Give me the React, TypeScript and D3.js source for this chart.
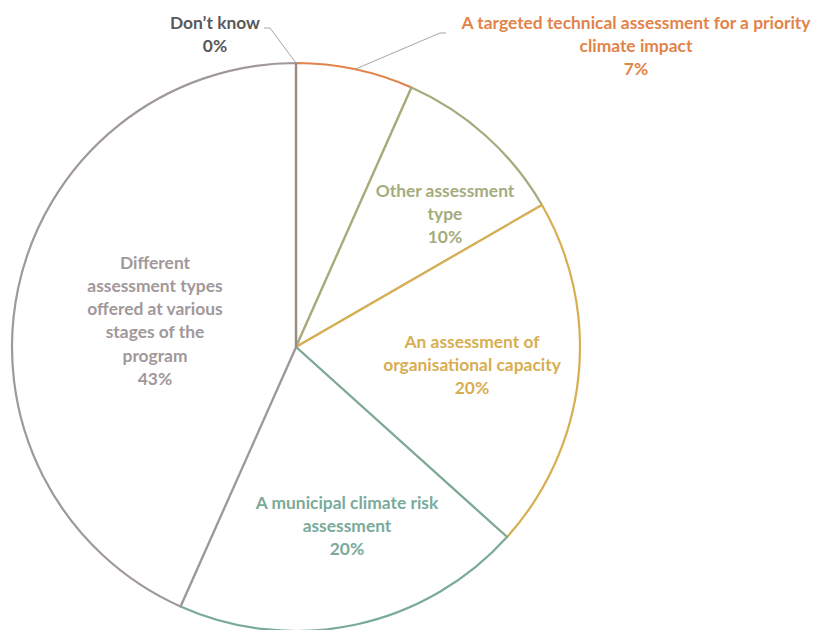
import React from "react";
import * as d3 from "d3";

const categories = [
  "A targeted technical assessment for a priority climate impact",
  "Other assessment type",
  "An assessment of organisational capacity",
  "A municipal climate risk assessment",
  "Different assessment types offered at various stages of the program",
  "Don’t know",
];
// respondent counts (n = 30)
const values = [2, 3, 6, 6, 13, 0];
const percentLabels = ["7%", "10%", "20%", "20%", "43%", "0%"];
const colors = ["#E2834A", "#A4AC7E", "#D8AE52", "#7AAA9A", "#A1989A", "#9C8A84"];
const labelLines = [
  ["A targeted technical assessment for a priority", "climate impact"],
  ["Other assessment", "type"],
  ["An assessment of", "organisational capacity"],
  ["A municipal climate risk", "assessment"],
  ["Different", "assessment types", "offered at various", "stages of the", "program"],
  ["Don’t know"],
];
const labelPos: [number, number][] = [
  [636, 22],
  [445, 190],
  [472, 341],
  [347, 502],
  [155, 262],
  [215, 22],
];
const labelColors = ["#E2834A", "#A4AC7E", "#D8AE52", "#7AAA9A", "#A1989A", "#595959"];

export default function App() {
  const W = 819, H = 630;
  const cx = 296, cy = 347, r = 284;
  const pie = d3.pie<number>().sort(null).value((d) => d);
  const arcs = pie(values);
  const arcGen = d3.arc<d3.PieArcDatum<number>>().innerRadius(0).outerRadius(r);
  const lh = 23.3;
  const m0 = (arcs[0].startAngle + arcs[0].endAngle) / 2;
  return (
    <svg width={W} height={H} style={{ position: "absolute", left: 0, top: 0 }}>
      <rect width={W} height={H} fill="#fff" />
      <g transform={`translate(${cx},${cy})`}>
        {arcs.map((a, i) => (
          <path key={i} d={arcGen(a) || ""} fill="#fff" stroke={colors[i]} strokeWidth={2.2} strokeLinejoin="round" />
        ))}
      </g>
      <polyline points={`${cx + r * Math.sin(m0)},${cy - r * Math.cos(m0)} 440,33 446,33`} fill="none" stroke="#A6A6A6" strokeWidth={1} />
      <polyline points={`${cx},${cy - r} 270,28 264,28`} fill="none" stroke="#A6A6A6" strokeWidth={1} />
      {labelLines.map((lines, i) => (
        <text key={i} fontFamily="Lato, 'Open Sans', sans-serif" fontWeight={700} fontSize={17.4} fill={labelColors[i]} textAnchor="middle">
          {[...lines, percentLabels[i]].map((t, j) => (
            <tspan key={j} x={labelPos[i][0]} y={labelPos[i][1] + j * lh} dominantBaseline="central">{t}</tspan>
          ))}
        </text>
      ))}
    </svg>
  );
}
